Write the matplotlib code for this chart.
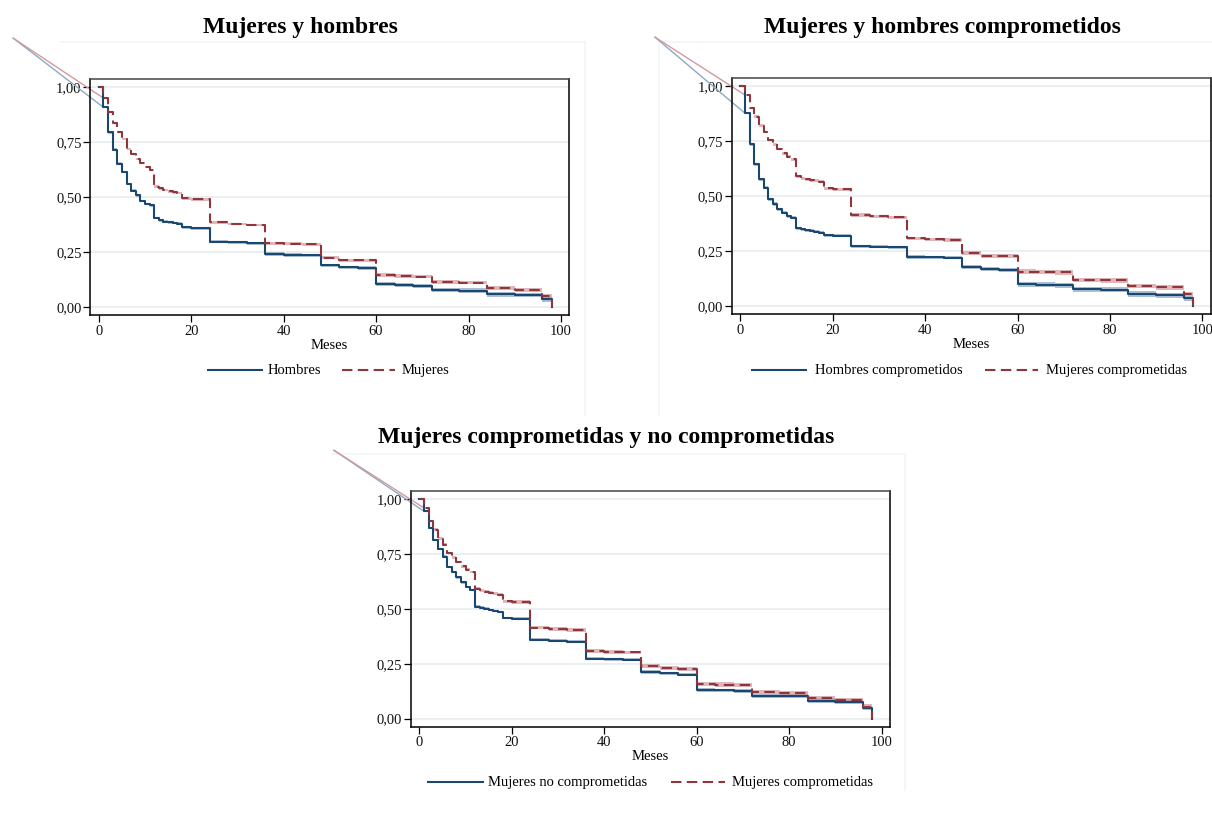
import matplotlib
matplotlib.use("Agg")
import matplotlib.pyplot as plt
from matplotlib.lines import Line2D
import numpy as np

# ---------------- data ----------------
months = [0, 1, 2, 3, 4, 5, 6, 7, 8, 9, 10, 11, 12, 13, 14, 15, 16, 17,
          18, 20, 24, 28, 32, 36, 40, 44, 48, 52, 56, 60, 64, 68, 72, 78, 84, 90, 96, 98]

hombres = [1.0, .908, .794, .715, .652, .614, .560, .530, .508, .483, .468, .462, .405, .395, .389, .385, .382, .379,
           .362, .359, .298, .294, .290, .241, .238, .235, .190, .181, .179, .104, .100, .097, .077, .075, .058, .055, .035, 0.0]
mujeres = [1.0, .950, .886, .836, .795, .764, .720, .697, .674, .655, .635, .624, .548, .540, .532, .526, .522, .518,
           .495, .490, .385, .378, .373, .290, .288, .286, .224, .214, .212, .145, .142, .139, .115, .112, .085, .079, .052, 0.0]
hombres_comp = [1.0, .876, .735, .644, .577, .539, .486, .464, .440, .424, .409, .402, .353, .349, .345, .342, .338, .334,
                .323, .321, .273, .270, .267, .224, .222, .220, .177, .168, .166, .100, .097, .094, .077, .075, .055, .050, .035, 0.0]
mujeres_comp = [1.0, .959, .900, .861, .820, .792, .755, .735, .714, .694, .679, .667, .591, .582, .577, .573, .569, .565,
                .535, .531, .414, .408, .403, .308, .303, .301, .240, .229, .227, .157, .155, .153, .120, .117, .092, .085, .055, 0.0]
mujeres_nocomp = [1.0, .944, .868, .814, .773, .738, .690, .667, .644, .621, .600, .586, .510, .505, .500, .495, .490, .486,
                  .458, .455, .359, .355, .351, .273, .271, .269, .213, .206, .200, .130, .128, .126, .105, .102, .082, .077, .048, 0.0]

# half-widths of the confidence bands
hw_hombres = [0, .004, .005, .006, .006, .006, .006, .006, .006, .006, .006, .006, .006, .006, .006, .006, .006, .006,
              .007, .007, .007, .007, .007, .008, .008, .008, .008, .008, .008, .010, .010, .010, .010, .010, .011, .011, .011, 0]
hw_mujeres = [0, .003, .004, .005, .005, .005, .005, .005, .005, .005, .005, .005, .006, .006, .006, .006, .006, .006,
              .006, .006, .006, .006, .006, .007, .007, .007, .007, .007, .007, .008, .008, .008, .008, .008, .009, .009, .009, 0]
hw_hombres_comp = [0, .005, .006, .007, .007, .007, .007, .007, .007, .007, .007, .007, .007, .007, .007, .007, .007, .007,
                   .007, .007, .007, .007, .007, .008, .008, .008, .009, .009, .009, .011, .011, .011, .011, .011, .012, .012, .012, 0]
hw_mujeres_comp = [0, .004, .005, .006, .006, .006, .006, .006, .006, .006, .006, .006, .007, .007, .007, .007, .007, .007,
                   .007, .007, .008, .008, .008, .008, .008, .008, .009, .009, .009, .010, .010, .010, .010, .010, .010, .010, .010, 0]
hw_mujeres_nocomp = [0, .004, .005, .006, .006, .006, .006, .006, .006, .006, .006, .006, .006, .006, .006, .006, .006, .006,
                     .006, .006, .007, .007, .007, .007, .007, .007, .008, .008, .008, .009, .009, .009, .009, .009, .010, .010, .010, 0]

panels = [
    dict(title="Mujeres y hombres",
         series=[("Hombres", hombres, hw_hombres, "solid"), ("Mujeres", mujeres, hw_mujeres, "dashed")]),
    dict(title="Mujeres y hombres comprometidos",
         series=[("Hombres comprometidos", hombres_comp, hw_hombres_comp, "solid"),
                 ("Mujeres comprometidas", mujeres_comp, hw_mujeres_comp, "dashed")]),
    dict(title="Mujeres comprometidas y no comprometidas",
         series=[("Mujeres no comprometidas", mujeres_nocomp, hw_mujeres_nocomp, "solid"),
                 ("Mujeres comprometidas", mujeres_comp, hw_mujeres_comp, "dashed")]),
]

x_ticks = [0, 20, 40, 60, 80, 100]
y_ticks = [0.0, 0.25, 0.50, 0.75, 1.00]
y_tick_labels = ["0,00", "0,25", "0,50", "0,75", "1,00"]
diag_start = (-18.5, 1.222)

# ---------------- style ----------------
W, H = 1212, 821
FONT = "Liberation Serif"
plt.rcParams["font.family"] = [FONT, "DejaVu Serif"]

line_cols = ["#1a476f", "#90353b"]
band_cols = ["#7f9cbc", "#cf8f95"]
diag_cols = ["#8ea8c6", "#d29a9e"]
grid_col = "#e8eff1"
faint_col = "#f2f5f6"

fig = plt.figure(figsize=(W / 100, H / 100), dpi=100)
fig.patch.set_facecolor("white")


def px_rect(left, top, right, bottom):
    return [left / W, 1 - bottom / H, (right - left) / W, (bottom - top) / H]


rects = [px_rect(90, 78.7, 569.3, 315.3),
         px_rect(731.7, 77.7, 1210.7, 314.3),
         px_rect(410.7, 490.7, 890, 726.7)]
title_pos = [(300, 27), (942, 27), (606, 438)]
legend_y = [370, 370, 782]
legend_items = [[(208, 262, 268), (342, 395, 402)],
                [(752, 806, 815), (985, 1038, 1046)],
                [(428, 483, 488), (671, 725, 732)]]

# faint graph-region borders
def fline(x0, y0, x1, y1):
    fig.add_artist(Line2D([x0 / W, x1 / W], [1 - y0 / H, 1 - y1 / H],
                          transform=fig.transFigure, color=faint_col, lw=1.2, zorder=0))

fline(60, 42, 585, 42)
fline(585, 42, 585, 415)
fline(659, 42, 1212, 42)
fline(659, 42, 659, 415)
fline(333, 454, 905, 454)
fline(905, 454, 905, 790)

for p, rect, tpos, ly, litems in zip(panels, rects, title_pos, legend_y, legend_items):
    ax = fig.add_axes(rect)
    ax.set_xlim(-1.9, 101.8)
    ax.set_ylim(-0.037, 1.038)
    for yv in y_ticks:
        ax.axhline(yv, color=grid_col, lw=1.3, zorder=0)

    for i, (name, surv, hw, ls) in enumerate(p["series"]):
        t = np.array(months, dtype=float)
        s = np.array(surv)
        h = np.array(hw)
        ax.fill_between(t, s - h, s + h, step="post", color=band_cols[i], alpha=0.65,
                        lw=0, zorder=1)
        ax.plot(t, s, drawstyle="steps-post", color=line_cols[i], lw=1.5,
                zorder=3 + i, **({"dashes": (5, 2.6)} if ls == "dashed" else {}))
        ax.plot([diag_start[0], months[1]], [diag_start[1], surv[1]], color=diag_cols[i],
                lw=1.0, clip_on=False, zorder=2)

    ax.set_xticks(x_ticks)
    ax.set_xticklabels([str(v) for v in x_ticks])
    ax.set_yticks(y_ticks)
    ax.set_yticklabels(y_tick_labels)
    ax.tick_params(axis="both", direction="out", length=5, width=0.9, labelsize=10.5,
                   color="black", labelcolor="#111111")
    ax.tick_params(axis="x", pad=2)
    ax.tick_params(axis="y", pad=1)
    for sp in ax.spines.values():
        sp.set_color("black")
        sp.set_linewidth(1.1)
    ax.spines["top"].set_color("#444444")
    ax.set_xlabel("Meses", fontsize=10.5, labelpad=0.5)

    fig.text(tpos[0] / W, 1 - tpos[1] / H, p["title"], ha="center", va="center",
             fontsize=17, fontweight="bold", family=FONT)

    for i, ((x0, x1, xt), (name, _, _, ls)) in enumerate(zip(litems, p["series"])):
        kw = {"dashes": (5, 2.6)} if ls == "dashed" else {}
        fig.add_artist(Line2D([x0 / W, x1 / W], [1 - ly / H, 1 - ly / H], transform=fig.transFigure,
                              color=line_cols[i], lw=1.5, **kw))
        fig.text(xt / W, 1 - ly / H, name, ha="left", va="center", fontsize=10.5, family=FONT)

fig.savefig("out.png", dpi=100, facecolor="white")
